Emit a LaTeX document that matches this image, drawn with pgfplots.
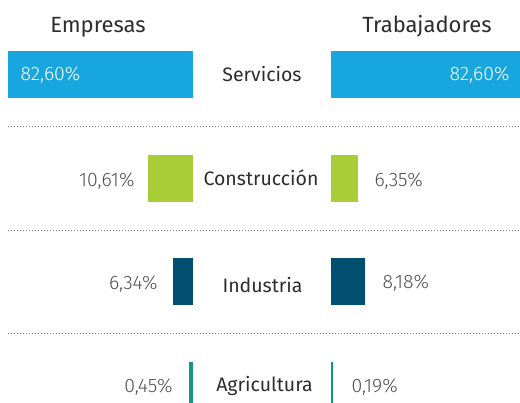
\documentclass[border=0pt]{standalone}
\usepackage{fontspec}
\setmainfont{Fira Sans}
\newfontfamily\lightfont{Fira Sans Light}
\usepackage{pgfplots}
\pgfplotsset{compat=1.18}
\definecolor{servblue}{RGB}{24,166,223}
\definecolor{consgreen}{RGB}{168,205,55}
\definecolor{indblue}{RGB}{0,79,113}
\definecolor{agrteal}{RGB}{19,150,134}
\definecolor{textdark}{RGB}{45,45,45}
\definecolor{textgrey}{RGB}{80,80,80}
\definecolor{dotgrey}{RGB}{120,120,120}

\begin{document}
\begin{tikzpicture}
\pgfplotsset{
  panel/.style={scale only axis, height=403pt, ymin=0, ymax=403, y dir=reverse,
    axis line style={draw=none}, ticks=none, xbar, bar width=47, bar shift=0pt},
}
\tikzset{
  hdr/.style={anchor=base, text=textdark, font=\fontsize{22}{26}\selectfont},
  cat/.style={anchor=base, text=textdark, font=\fontsize{19.5}{23}\selectfont},
  val/.style={text=textgrey, font=\lightfont\fontsize{19.5}{23}\selectfont},
}
% frame, separators and texts
\begin{axis}[scale only axis, width=520pt, height=403pt, at={(0pt,0pt)}, anchor=south west,
  xmin=0, xmax=520, ymin=0, ymax=403, y dir=reverse,
  axis line style={draw=none}, ticks=none]
  \addplot[dotgrey, line width=1pt, dash pattern=on 1pt off 2pt] coordinates {(8,127) (520,127)};
  \addplot[dotgrey, line width=1pt, dash pattern=on 1pt off 2pt] coordinates {(8,231) (520,231)};
  \addplot[dotgrey, line width=1pt, dash pattern=on 1pt off 2pt] coordinates {(8,334) (520,334)};
  \node[hdr] at (axis cs:98,32.5) {Empresas};
  \node[hdr] at (axis cs:427,33) {Trabajadores};
  \node[cat] at (axis cs:262,82) {Servicios};
  \node[cat] at (axis cs:261,186) {Construcción};
  \node[cat] at (axis cs:262.5,293) {Industria};
  \node[cat] at (axis cs:264.5,392) {Agricultura};
\end{axis}
% Empresas (bars grow to the left)
\begin{axis}[panel, width=193pt, at={(0pt,0pt)}, anchor=south west,
  xmin=0, xmax=193, x dir=reverse]
  \addplot[fill=servblue, draw=none] coordinates {(185,74.5)};
  \addplot[fill=consgreen, draw=none] coordinates {(45,178.5)};
  \addplot[fill=indblue, draw=none] coordinates {(20,281.5)};
  \addplot[fill=agrteal, draw=none, bar width=41] coordinates {(4,382.5)};
  \node[val, anchor=base west, text=white] at (axis cs:176,81) {82,60\%};
  \node[val, anchor=base east] at (axis cs:55,187) {10,61\%};
  \node[val, anchor=base east] at (axis cs:32,290) {6,34\%};
  \node[val, anchor=base east] at (axis cs:17,393) {0,45\%};
\end{axis}
% Trabajadores (bars grow to the right)
\begin{axis}[panel, width=189pt, at={(331pt,0pt)}, anchor=south west,
  xmin=0, xmax=189]
  \addplot[fill=servblue, draw=none] coordinates {(189,74.5)};
  \addplot[fill=consgreen, draw=none] coordinates {(27,178.5)};
  \addplot[fill=indblue, draw=none] coordinates {(34,281.5)};
  \addplot[fill=agrteal, draw=none, bar width=41] coordinates {(1.5,382.5)};
  \node[val, anchor=base east, text=white] at (axis cs:182,81) {82,60\%};
  \node[val, anchor=base west] at (axis cs:40,187) {6,35\%};
  \node[val, anchor=base west] at (axis cs:48,289) {8,18\%};
  \node[val, anchor=base west] at (axis cs:17,393) {0,19\%};
\end{axis}
\end{tikzpicture}
\end{document}
